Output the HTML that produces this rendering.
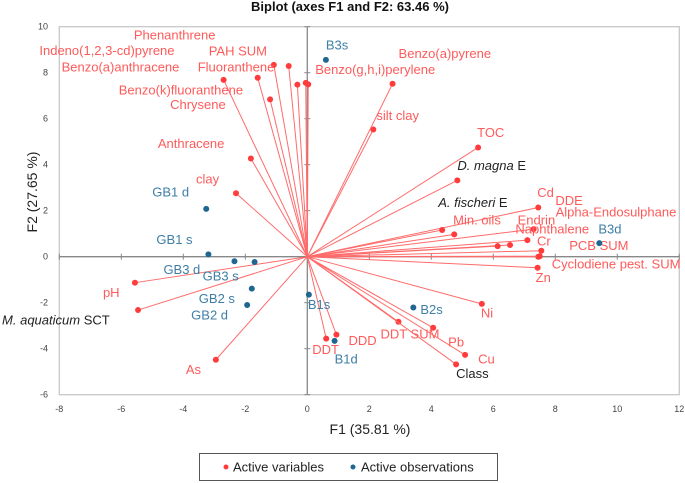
<!DOCTYPE html>
<html><head><meta charset="utf-8"><style>
body{margin:0;background:#fff;}
svg{display:block;font-family:"Liberation Sans",sans-serif;}
.vl{font-size:13px;fill:#ff5a5a;}
.ol{font-size:13px;fill:#3d7ea6;}
.bl{font-size:13px;fill:#222;}
.tk{font-size:9px;fill:#444;}
</style></head><body>
<svg id="chart" width="685" height="483" viewBox="0 0 685 483"></svg>
<script>
const varNames=["Phenanthrene","PAH SUM","Fluoranthene","Benzo(a)anthracene","Chrysene","Indeno(1,2,3-cd)pyrene","Benzo(k)fluoranthene","Benzo(g,h,i)perylene","Anthracene","clay","silt clay","Benzo(a)pyrene","TOC","D. magna E","Cd","Endrin","Naphthalene","Cr","Alpha-Endosulphane","DDE","PCB SUM","Cyclodiene pest. SUM","Min. oils","A. fischeri E","Zn","Ni","DDT","DDD","DDT SUM","Pb","Cu","Class","pH","M. aquaticum SCT","As"];
const varF1=[-1.08,-0.60,-1.60,-2.70,-1.20,-0.32,-0.05,0.03,-1.82,-2.30,2.13,2.75,5.51,4.84,7.45,7.30,7.10,6.54,6.14,7.55,7.45,7.50,4.35,4.74,7.43,5.63,0.61,0.94,2.94,4.06,5.09,4.80,-5.56,-5.46,-2.95];
const varF2=[8.34,8.29,7.78,7.69,6.84,7.48,7.56,7.49,4.27,2.76,5.53,7.52,4.75,3.32,2.14,1.20,0.72,0.51,0.46,0.26,0.00,0.02,1.16,0.97,-0.48,-2.05,-3.56,-3.39,-2.83,-3.09,-4.27,-4.68,-1.13,-2.32,-4.48];
const obsNames=["B3s","B3d","B1s","B1d","B2s","GB1 d","GB1 s","GB3 d","GB3 s","GB2 s","GB2 d"];
const obsF1=[0.60,9.42,0.05,0.88,3.42,-3.26,-3.19,-2.35,-1.70,-1.79,-1.94];
const obsF2=[8.56,0.59,-1.65,-3.66,-2.21,2.08,0.10,-0.20,-0.23,-1.39,-2.10];
const xTicks=[-8,-6,-4,-2,0,2,4,6,8,10,12];
const yTicks=[-6,-4,-2,0,2,4,6,8,10];
// label offsets (pixels, layout only)
const varOff=[[-140,-30],[-80,-15],[-60,-11],[-162,-13],[-100,5],[-258,-34],[-187,7],[7,-15],[-93,-15],[-40,-14],[3,-14],[6,-30],[-1,-15],[0,-15],[-1,-15],[-16,-9],[-12,-11],[27,-4],[58,-34],[14,-50],[31,-11],[12,8],[11,-10],[-16,-32],[-2,10],[-1,9],[-14,11],[12,6],[-18,12],[15,14],[13,4],[0,9],[-32,10],[-136,10],[-30,10]];
const obsOff=[[0,-15],[-1,-14],[-1,10],[0,18],[7,2],[-54,-17],[-52,-15],[-71,8],[-52,14],[-53,10],[-56,10]];

const X0=59.3,X1=679.3,Y0=394.7,Y1=26.7;
const sx=v=>X0+(v+8)/20*(X1-X0);
const sy=v=>Y0-(v+6)/16*(Y0-Y1);
const svg=document.getElementById('chart');
const NS="http://www.w3.org/2000/svg";
function mk(t,a,p){const e=document.createElementNS(NS,t);for(const k in a)e.setAttribute(k,a[k]);(p||svg).appendChild(e);return e;}

let e=mk('rect',{x:X0,y:Y1,width:X1-X0,height:Y0-Y1,fill:'none',stroke:'#c8c8c8','stroke-width':1.3});


e=mk('line',{x1:X0,x2:X1,y1:sy(0),y2:sy(0),stroke:'#888','stroke-width':1.3});


e=mk('line',{x1:sx(0),x2:sx(0),y1:Y1,y2:Y0,stroke:'#888','stroke-width':1.3});


xTicks.forEach(t=>{
  const l=mk('line',{x1:sx(t),x2:sx(t),y1:sy(0)-3,y2:sy(0)+3,stroke:'#888'});
  
  
  const tx=mk('text',{x:sx(t),y:412,'text-anchor':'middle',class:'tk'});tx.textContent=t;
  
  
});
yTicks.forEach(t=>{
  const l=mk('line',{x1:sx(0)-3,x2:sx(0)+3,y1:sy(t),y2:sy(t),stroke:'#888'});
  
  
  const tx=mk('text',{x:48,y:sy(t)+3,'text-anchor':'end',class:'tk'});tx.textContent=t;
  
  
});
const blackSet={"D. magna E":["D. magna"," E"],"A. fischeri E":["A. fischeri"," E"],"M. aquaticum SCT":["M. aquaticum"," SCT"],"Class":null};
varNames.forEach((n,i)=>{
  const px=sx(varF1[i]),py=sy(varF2[i]);
  const l=mk('line',{x1:sx(0),y1:sy(0),x2:px,y2:py,stroke:'#ff6b6b','stroke-width':1});
  
  
  const c=mk('circle',{cx:px,cy:py,r:3,fill:'#ff3b3b'});
  
  
  const t=mk('text',{x:px+varOff[i][0],y:py+varOff[i][1]+4.5});
  
  
  if(n in blackSet){
    t.setAttribute('class','bl');
    const parts=blackSet[n];
    if(parts){const a=mk('tspan',{'font-style':'italic'},t);a.textContent=parts[0];const b=mk('tspan',{},t);b.textContent=parts[1];}
    else t.textContent=n;
  } else {t.setAttribute('class','vl');t.textContent=n;}
});
obsNames.forEach((n,i)=>{
  const px=sx(obsF1[i]),py=sy(obsF2[i]);
  const c=mk('circle',{cx:px,cy:py,r:3,fill:'#1f6690'});
  
  
  const t=mk('text',{x:px+obsOff[i][0],y:py+obsOff[i][1]+4.5,class:'ol'});t.textContent=n;
  
  
});
e=mk('text',{x:350,y:11,'text-anchor':'middle','font-size':'13px','font-weight':'bold',fill:'#111'});e.textContent="Biplot (axes F1 and F2: 63.46 %)";


e=mk('text',{x:370,y:434,'text-anchor':'middle','font-size':'14px',fill:'#222'});e.textContent="F1 (35.81 %)";


e=mk('text',{x:0,y:0,'text-anchor':'middle','font-size':'14px',fill:'#222',transform:'translate(37,192) rotate(-90)'});e.textContent="F2 (27.65 %)";


const lg=mk('g',{});


mk('rect',{x:199.5,y:453.5,width:298,height:27,fill:'#fff',stroke:'#555'},lg);
e=mk('circle',{cx:226,cy:467,r:2.5,fill:'#ff3b3b'},lg);


e=mk('text',{x:233,y:471.5,'font-size':'13px',fill:'#222'},lg);e.textContent="Active variables";


e=mk('circle',{cx:353,cy:467,r:2.5,fill:'#1f6690'},lg);


e=mk('text',{x:361,y:471.5,'font-size':'13px',fill:'#222'},lg);e.textContent="Active observations";


</script>
</body></html>
